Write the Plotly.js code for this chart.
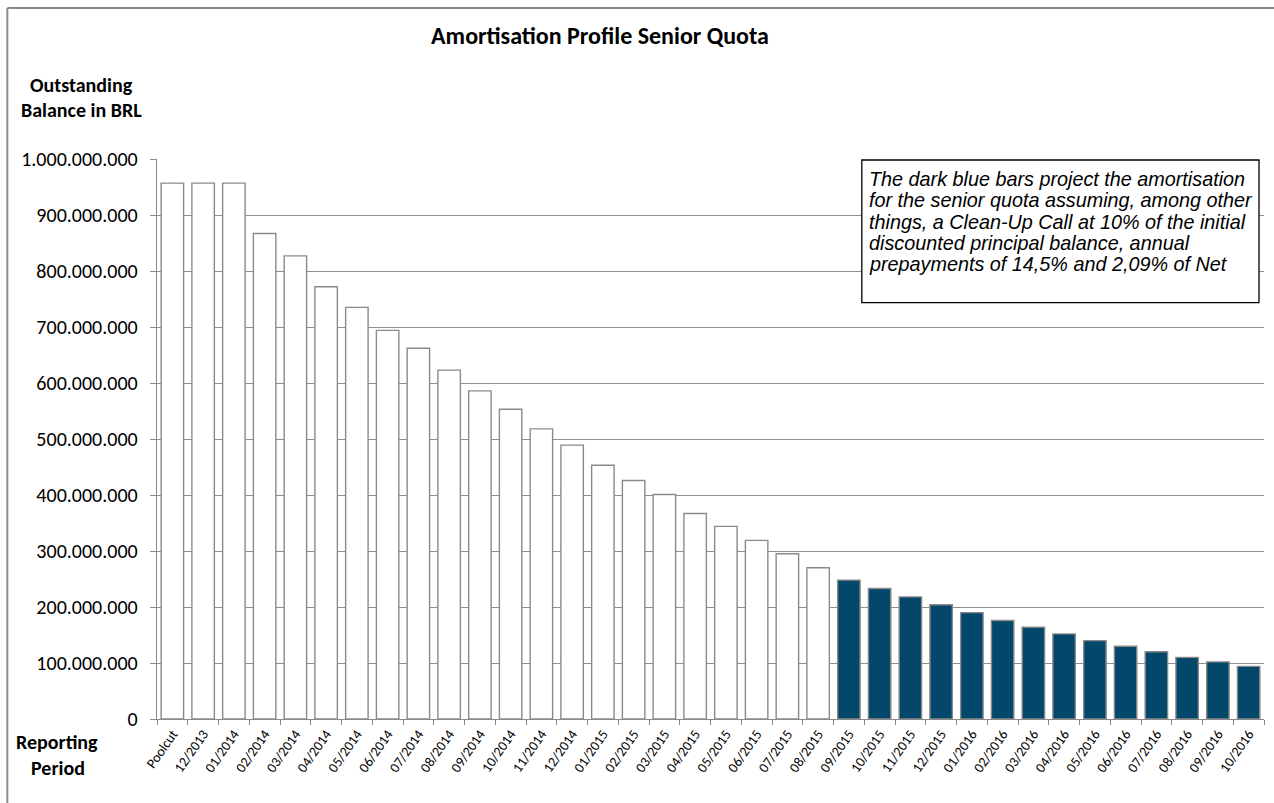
<!DOCTYPE html>
<html>
<head>
<meta charset="utf-8">
<script src="https://cdn.plot.ly/plotly-3.0.1.min.js"></script>
<style>
html,body{margin:0;padding:0;background:#fff;}
#chart{width:1274px;height:803px;}
</style>
</head>
<body>
<div id="chart"></div>
<script>
// ---- data ----
var periods = ["Poolcut","12/2013","01/2014","02/2014","03/2014","04/2014","05/2014","06/2014","07/2014","08/2014",
  "09/2014","10/2014","11/2014","12/2014","01/2015","02/2015","03/2015","04/2015","05/2015","06/2015",
  "07/2015","08/2015","09/2015","10/2015","11/2015","12/2015","01/2016","02/2016","03/2016","04/2016",
  "05/2016","06/2016","07/2016","08/2016","09/2016","10/2016"];
var balances = [957e6,957e6,957e6,867e6,827e6,772e6,735e6,694e6,662e6,623e6,
  586e6,553e6,518e6,489e6,453e6,426e6,401e6,367e6,344e6,319e6,
  295e6,270e6,248e6,233e6,218e6,204e6,190e6,176e6,164e6,152e6,
  140e6,130e6,120e6,110e6,102e6,94e6];
var projected = [false,false,false,false,false,false,false,false,false,false,
  false,false,false,false,false,false,false,false,false,false,
  false,false,true,true,true,true,true,true,true,true,
  true,true,true,true,true,true];
var yTicks = [0,100e6,200e6,300e6,400e6,500e6,600e6,700e6,800e6,900e6,1000e6];
var titleText = "Amortisation Profile Senior Quota";
var yTitleLines = ["Outstanding","Balance in BRL"];
var xTitleLines = ["Reporting","Period"];
var noteLines = [
  "The dark blue bars project the amortisation",
  "for the senior quota assuming, among other",
  "things, a Clean-Up Call at 10% of the initial",
  "discounted principal balance, annual",
  "prepayments of 14,5% and 2,09% of Net"
];

// ---- layout geometry ----
var W = 1274, H = 803;
var L = 156.7, R = 1264, T = 159, B = 719;
function px(x){ return (x - L) / (R - L); }
function py(y){ return (B - y) / (B - T); }

var fillColors = projected.map(function(p){ return p ? "#03476A" : "#ffffff"; });
var FONT = "Carlito, Lato, sans-serif";
var NOTEFONT = "Liberation Sans, Arial, sans-serif";

var trace = {
  type: "bar",
  x: periods,
  y: balances,
  marker: {color: fillColors, line: {color: "#8a8a8a", width: 1.4}},
  hoverinfo: "x+y"
};

function label(text, x, y, size, opts){
  var a = {xref: "paper", yref: "paper", x: px(x), y: py(y), text: text, showarrow: false,
           xanchor: "center", yanchor: "middle", font: {family: FONT, size: size, color: "#000"}};
  if (opts) for (var k in opts) a[k] = opts[k];
  return a;
}

var annotations = [
  label("<b>" + yTitleLines[0] + "</b>", 81.6, 85, 20),
  label("<b>" + yTitleLines[1] + "</b>", 81.6, 110, 20),
  label("<b>" + xTitleLines[0] + "</b>", 57, 742, 20),
  label("<b>" + xTitleLines[1] + "</b>", 58, 768, 20)
];
var noteTop = 179, noteStep = 21.3;
noteLines.forEach(function(t, i){
  annotations.push(label(t, 866.5, noteTop + i * noteStep, 20,
    {xanchor: "left", font: {family: NOTEFONT, size: 19.8, style: "italic", color: "#000"}}));
});

var layout = {
  width: W, height: H,
  margin: {l: L, r: W - R, t: T, b: H - B, pad: 0},
  paper_bgcolor: "#fff", plot_bgcolor: "#fff",
  separators: ",.",
  showlegend: false,
  bargap: 0.27,
  font: {family: FONT, color: "#000"},
  title: {text: "<b>" + titleText + "</b>", x: 600 / W, xanchor: "center", y: 1 - 36/H, yanchor: "middle",
          font: {family: FONT, size: 24, color: "#000"}},
  xaxis: {
    type: "category",
    tickangle: -55,
    ticks: "outside", tickson: "boundaries", ticklen: 5, tickcolor: "#8a8a8a",
    showline: true, linecolor: "#8a8a8a", linewidth: 1.3,
    showgrid: false, zeroline: false,
    tickfont: {family: FONT, size: 14, color: "#000"},
    automargin: false
  },
  yaxis: {
    range: [0, 1e9],
    tickvals: yTicks,
    tickformat: ",.0f",
    ticks: "outside", ticklen: 6, tickcolor: "#8a8a8a",
    showline: true, linecolor: "#8a8a8a", linewidth: 1.3,
    showgrid: true, gridcolor: "#8f8f8f", gridwidth: 1,
    zeroline: false,
    tickfont: {family: FONT, size: 20, color: "#000"},
    ticklabelstandoff: 8,
    automargin: false
  },
  shapes: [
    {type: "line", xref: "paper", yref: "paper", x0: px(7), x1: px(7), y0: py(8), y1: py(900),
     line: {color: "#8a8a8a", width: 2}},
    {type: "line", xref: "paper", yref: "paper", x0: px(7), x1: px(1300), y0: py(8), y1: py(8),
     line: {color: "#8a8a8a", width: 2}},
    {type: "rect", xref: "paper", yref: "paper", x0: px(861.7), x1: px(1259), y0: py(160), y1: py(302.7),
     fillcolor: "#fff", line: {color: "#000", width: 1.3}, layer: "above"}
  ],
  annotations: annotations
};

Plotly.newPlot("chart", [trace], layout, {displayModeBar: false, staticPlot: true});
</script>
</body>
</html>
